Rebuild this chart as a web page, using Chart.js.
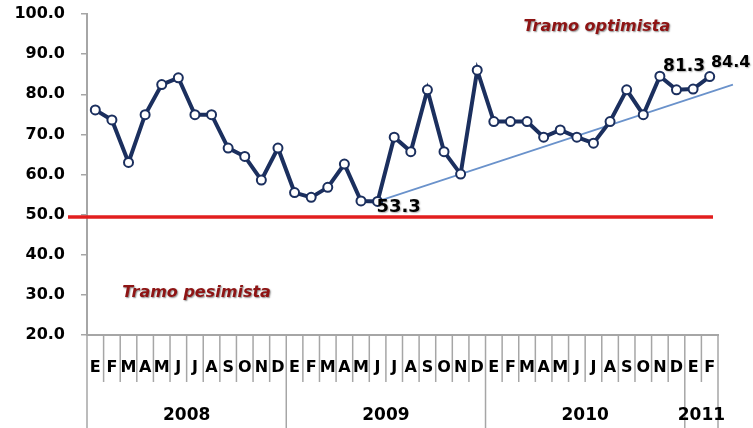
<!DOCTYPE html>
<html><head><meta charset="utf-8">
<script src="https://cdn.jsdelivr.net/npm/chart.js@4.4.1/dist/chart.umd.min.js"></script>
<style>html,body{margin:0;padding:0;background:#fff;overflow:hidden}</style>
</head><body>
<canvas id="c" width="753" height="428"></canvas>
<script>
// ---- data ----
const months = ['E','F','M','A','M','J','J','A','S','O','N','D',
                'E','F','M','A','M','J','J','A','S','O','N','D',
                'E','F','M','A','M','J','J','A','S','O','N','D',
                'E','F'];
const years = ['2008','2009','2010','2011'];
const monthsPerYear = [12, 12, 12, 2];
const indexValues = [76.1,73.6,63.0,74.9,82.4,84.1,74.9,74.9,66.6,64.5,58.6,66.6,
                     55.5,54.3,56.8,62.6,53.4,53.3,69.3,65.7,81.1,65.7,60.1,86.0,
                     73.2,73.2,73.2,69.3,71.1,69.3,67.8,73.2,81.1,74.9,84.5,81.1,
                     81.3,84.4];
const labelledIdx = [17, 36, 37];
const trendIdx = [17, 38.4];
const trendVal = [53.3, 82.4];
const thresholdValue = 49.4;
const zoneTexts = ['Tramo optimista', 'Tramo pesimista'];
const yMin = 20, yMax = 100, yStep = 10;

// ---- presentation ----
const FONT = '"DejaVu Sans", sans-serif';
const NAVY = '#1B2F5E';
const GRAY = '#A6A6A6';

const decor = {
  id: 'decor',
  beforeDatasetsDraw(chart) {
    const {ctx, scales: {x, y}, chartArea: a} = chart;
    ctx.save();
    const ty = y.getPixelForValue(thresholdValue);
    ctx.strokeStyle = '#E21E1E'; ctx.lineWidth = 3.5;
    ctx.beginPath(); ctx.moveTo(a.left - 19, ty); ctx.lineTo(a.right - 5, ty); ctx.stroke();
    ctx.strokeStyle = '#6A92CB'; ctx.lineWidth = 1.6;
    ctx.beginPath();
    ctx.moveTo(x.getPixelForValue(trendIdx[0]), y.getPixelForValue(trendVal[0]));
    ctx.lineTo(x.getPixelForValue(trendIdx[1]), y.getPixelForValue(trendVal[1]));
    ctx.stroke();
    ctx.restore();
  },
  afterDraw(chart) {
    const {ctx, scales: {x, y}, chartArea: a} = chart;
    ctx.save();
    const seps = new Set([0]);
    let cum = 0; monthsPerYear.forEach(c => { cum += c; seps.add(cum); });
    ctx.strokeStyle = GRAY; ctx.lineWidth = 1.5;
    for (let i = 0; i <= months.length; i++) {
      const px = x.getPixelForValue(i - 0.5);
      ctx.beginPath(); ctx.moveTo(px, a.bottom);
      ctx.lineTo(px, seps.has(i) ? chart.height : a.bottom + 47); ctx.stroke();
    }
    ctx.fillStyle = '#000'; ctx.font = 'bold 17px ' + FONT;
    ctx.textAlign = 'center'; ctx.textBaseline = 'middle';
    cum = 0;
    years.forEach((yr, k) => {
      const s = cum, e = cum + monthsPerYear[k]; cum = e;
      const cx = (x.getPixelForValue(s - 0.5) + x.getPixelForValue(e - 0.5)) / 2;
      ctx.fillText(yr, cx, a.bottom + 81);
    });
    ctx.font = 'italic bold 16px ' + FONT;
    ctx.fillStyle = '#8E1414';
    ctx.shadowColor = 'rgba(0,0,0,0.45)'; ctx.shadowBlur = 1.5; ctx.shadowOffsetX = 1; ctx.shadowOffsetY = 1;
    const zonePos = [[30.2, 96.9], [6.1, 30.6]];
    zoneTexts.forEach((t, k) => ctx.fillText(t, x.getPixelForValue(zonePos[k][0]), y.getPixelForValue(zonePos[k][1])));
    ctx.fillStyle = '#000';
    ctx.shadowColor = 'rgba(0,0,0,0.3)';
    const offs = {17: [21, 6, 18], 36: [-9, -22, 17], 37: [21, -14, 16]};
    labelledIdx.forEach(i => {
      const o = offs[i];
      ctx.font = 'bold ' + o[2] + 'px ' + FONT;
      ctx.fillText(indexValues[i].toFixed(1), x.getPixelForValue(i) + o[0], y.getPixelForValue(indexValues[i]) + o[1]);
    });
    ctx.restore();
  }
};

new Chart(document.getElementById('c'), {
  type: 'line',
  data: {
    labels: months,
    datasets: [{
      data: indexValues,
      borderColor: NAVY, borderWidth: 4,
      pointRadius: 4.5, pointBackgroundColor: '#fff', pointBorderColor: NAVY, pointBorderWidth: 2,
      tension: 0, clip: false
    }]
  },
  options: {
    responsive: false, devicePixelRatio: 1, animation: false,
    layout: {padding: {top: 14, right: 35, left: 0, bottom: 0}},
    plugins: {legend: {display: false}, tooltip: {enabled: false}},
    scales: {
      x: {
        type: 'category', offset: true,
        grid: {display: false},
        border: {display: true, color: GRAY, width: 2},
        ticks: {autoSkip: false, maxRotation: 0, minRotation: 0, color: '#000',
                font: {family: FONT, weight: 'bold', size: 16}, padding: 15},
        afterFit(s) { s.height = 93; }
      },
      y: {
        min: yMin, max: yMax,
        grid: {drawOnChartArea: false, drawTicks: true, tickLength: 6, color: GRAY, lineWidth: 1.5},
        border: {display: true, color: GRAY, width: 2},
        ticks: {stepSize: yStep, color: '#000', padding: 16,
                font: {family: FONT, weight: 'bold', size: 16},
                callback: v => Number(v).toFixed(1)},
        afterFit(s) { s.width = 87; s.paddingTop = 0; s.paddingBottom = 0; }
      }
    }
  },
  plugins: [decor]
});
</script>
</body></html>
